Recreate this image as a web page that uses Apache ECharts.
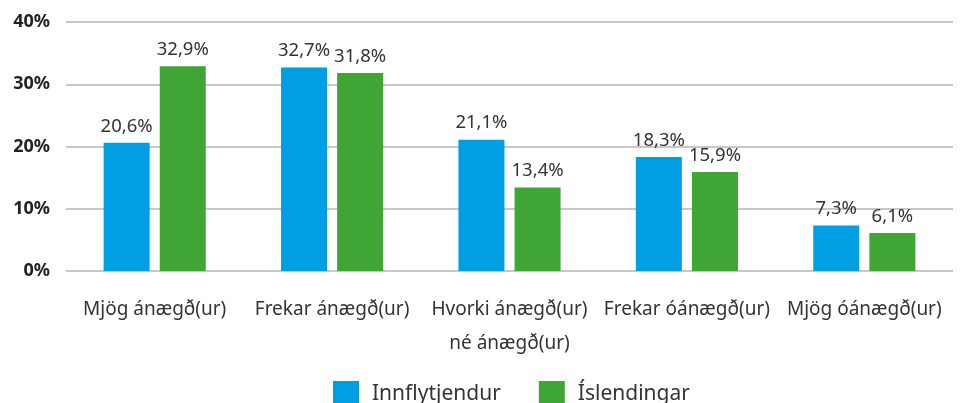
<!DOCTYPE html>
<html>
<head>
<meta charset="utf-8">
<script src="https://cdn.jsdelivr.net/npm/echarts@6/dist/echarts.min.js"></script>
<style>
  html, body { margin: 0; padding: 0; background: #fff; }
  #chart { width: 963px; height: 403px; }
</style>
</head>
<body>
<div id="chart"></div>
<script>
const categories = ['Mjög ánægð(ur)', 'Frekar ánægð(ur)', 'Hvorki ánægð(ur)\nné ánægð(ur)', 'Frekar óánægð(ur)', 'Mjög óánægð(ur)']
const innflytjendur = [20.6, 32.7, 21.1, 18.3, 7.3]
const islendingar = [32.9, 31.8, 13.4, 15.9, 6.1]
const yTicks = [0, 10, 20, 30, 40]

const myChart = echarts.init(document.getElementById('chart'))

// 1 decimal with comma, as in the source
const labelFmt = p => String(p.value).replace('.', ',') + '%'

const option = {
  animation: false,
  textStyle: { fontFamily: 'Noto Sans' },
  legend: {
    top: 376,
    left: 328,
    itemWidth: 26,
    itemHeight: 26,
    itemGap: 38,
    icon: 'rect',
    textStyle: { fontSize: 21, color: '#333', fontFamily: 'Noto Sans', padding: [0, 0, 0, 8] },
    data: ['Innflytjendur', 'Íslendingar']
  },
  grid: { left: 66, right: 10, top: 22, bottom: 132 },
  xAxis: {
    type: 'category',
    data: categories,
    axisLine: { show: false },
    axisTick: { show: false },
    axisLabel: { fontSize: 19, color: '#333', margin: 22, lineHeight: 34, interval: 0 }
  },
  yAxis: {
    type: 'value',
    min: yTicks[0],
    max: yTicks[yTicks.length - 1],
    interval: 10,
    axisLabel: { formatter: '{value}%', fontSize: 18, fontWeight: 'bold', color: '#222', margin: 16 },
    splitLine: { lineStyle: { color: '#c8c8c8', width: 2 } }
  },
  series: [
    {
      name: 'Innflytjendur',
      type: 'bar',
      data: innflytjendur,
      barWidth: 46,
      barGap: '22%',
      itemStyle: { color: '#009fe3' },
      label: { show: true, position: 'top', distance: 7, fontSize: 18.5, color: '#333', formatter: labelFmt }
    },
    {
      name: 'Íslendingar',
      type: 'bar',
      data: islendingar,
      barWidth: 46,
      itemStyle: { color: '#3fa535' },
      label: { show: true, position: 'top', distance: 7, fontSize: 18.5, color: '#333', formatter: labelFmt }
    }
  ]
}

myChart.setOption(option)
</script>
</body>
</html>
